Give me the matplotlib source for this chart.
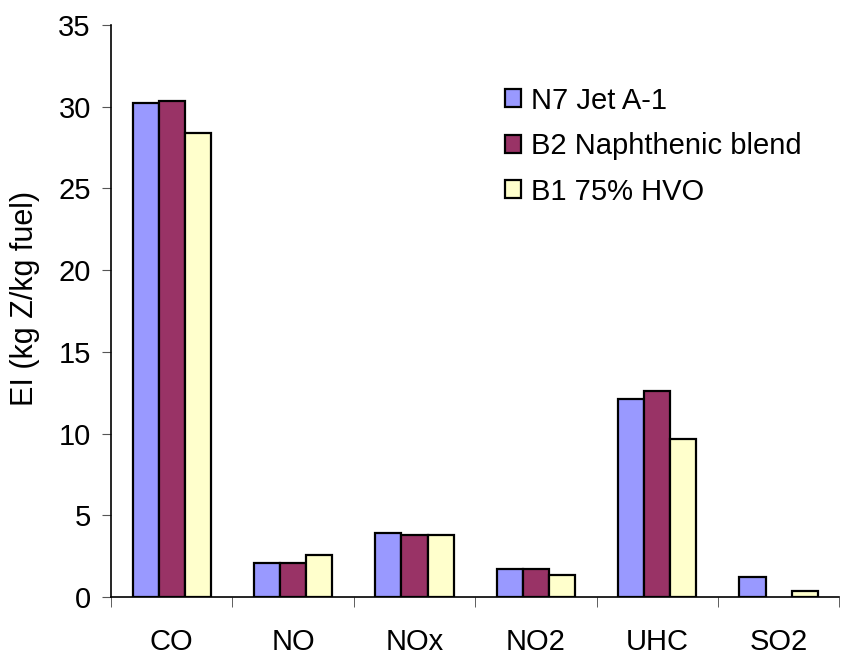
import numpy as np
import matplotlib
matplotlib.use("Agg")
from matplotlib import pyplot as plt

plt.rcParams['font.family'] = ['Liberation Sans', 'DejaVu Sans']

# Emission indices
species = ['CO', 'NO', 'NOx', 'NO2', 'UHC', 'SO2']
n7_jet = [30.2, 2.08, 3.9, 1.7, 12.1, 1.2]
b2_naph = [30.33, 2.08, 3.8, 1.7, 12.6, 0.0]
b1_hvo = [28.4, 2.57, 3.8, 1.33, 9.67, 0.35]

labels = ['N7 Jet A-1', 'B2 Naphthenic blend', 'B1 75% HVO']
colors = ['#9999FF', '#993366', '#FFFFCC']

fig = plt.figure(figsize=(8.41, 6.57), dpi=100)
ax = fig.add_axes([0.132, 0.0913, 0.866, 0.871])

x = np.arange(len(species))
w = 0.215
for i, (vals, lab, col) in enumerate(zip([n7_jet, b2_naph, b1_hvo], labels, colors)):
    lw = [1.6 if v > 0 else 0 for v in vals]
    ax.bar(x + (i - 1) * w, vals, w, color=col, edgecolor='black', linewidth=lw,
           label=lab, zorder=3)

ax.set_xlim(-0.5, len(species) - 0.5)
ax.set_ylim(0, 35)
ax.set_yticks(range(0, 36, 5))
ax.set_xticks(x)
ax.set_xticklabels(species)
ax.set_xticks(np.arange(-0.5, len(species), 1), minor=True)
ax.tick_params(axis='x', which='major', length=0, labelsize=21, pad=22)
ax.tick_params(axis='x', which='minor', length=7.5, color='#444444')
ax.tick_params(axis='y', length=6.5, color='#555555', labelsize=21, pad=8)

ax.spines['top'].set_visible(False)
ax.spines['right'].set_visible(False)
ax.spines['left'].set_linewidth(1.2)
ax.spines['bottom'].set_linewidth(1.2)

ax.set_ylabel('EI (kg Z/kg fuel)', fontsize=22)
ax.yaxis.set_label_coords(-0.098, 0.522)

leg = ax.legend(loc='upper left', bbox_to_anchor=(490 / 841, 1 - 72 / 657),
                bbox_transform=fig.transFigure, frameon=False, borderpad=0,
                fontsize=21, handlelength=0.55, handleheight=0.55,
                handletextpad=0.35, labelspacing=0.6)

plt.savefig('out.png', dpi=100)
